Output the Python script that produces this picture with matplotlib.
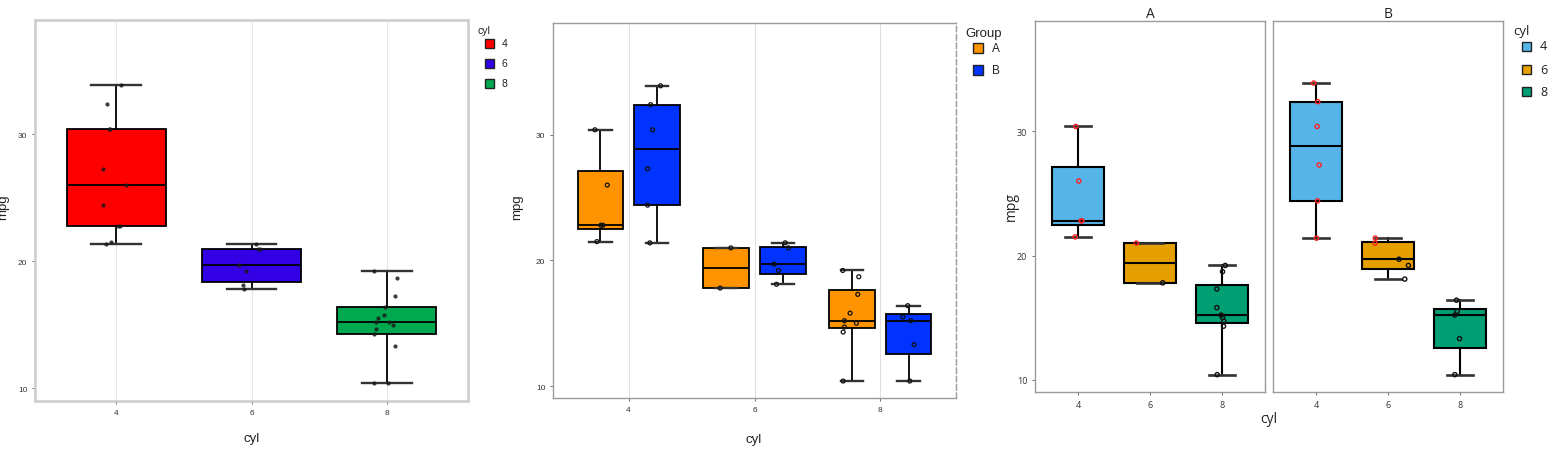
import numpy as np
import matplotlib
matplotlib.use('Agg')
import matplotlib.pyplot as plt
from matplotlib.patches import Rectangle

W, H = 1562, 452

# mtcars mpg, split by cyl and by Group
cyl_levels = ['4', '6', '8']
mpg_by_cyl = {
    '4': [33.9, 32.4, 30.4, 30.4, 27.3, 26.0, 24.4, 22.8, 22.8, 21.5, 21.4],
    '6': [21.4, 21.0, 21.0, 19.7, 19.2, 18.1, 17.8],
    '8': [19.2, 18.7, 17.3, 16.4, 15.8, 15.5, 15.2, 15.2, 15.0, 14.7, 14.3, 13.3, 10.4, 10.4],
}
mpg_A = {
    '4': [30.4, 26.0, 22.8, 22.8, 21.5],
    '6': [21.0, 17.8],
    '8': [19.2, 18.7, 17.3, 15.8, 15.2, 15.0, 14.7, 14.3, 10.4],
}
mpg_B = {
    '4': [33.9, 32.4, 30.4, 27.3, 24.4, 21.4],
    '6': [21.4, 21.0, 19.7, 19.2, 18.1],
    '8': [16.4, 15.5, 15.2, 13.3, 10.4],
}

# jitter offsets (same order as the values)
jit1 = {
    '4': [0.037, -0.067, -0.054, -0.044, -0.096, 0.074, -0.094, 0.012, 0.03, -0.035, -0.072],
    '6': [0.03, 0.05, 0.06, -0.094, -0.042, -0.064, -0.054],
    '8': [-0.096, 0.072, 0.059, -0.01, -0.022, -0.067, -0.079, 0.017, 0.044, -0.079, -0.094, 0.057, -0.094, 0.007],
}
jit2_A = {
    '4': [-0.042, 0.056, 0.005, 0.021, -0.026],
    '6': [0.037, -0.048],
    '8': [-0.074, 0.053, 0.045, -0.016, -0.061, 0.034, -0.061, -0.071, -0.071],
}
jit2_B = {
    '4': [0.029, -0.05, -0.034, -0.074, -0.074, -0.056],
    '6': [0.019, 0.045, -0.069, -0.034, -0.05],
    '8': [-0.008, -0.048, 0.016, 0.042, 0.008],
}
jit3_A = {
    '4': [-0.033, 0.009, 0.042, 0.052, -0.042],
    '6': [-0.19, 0.177],
    '8': [0.047, 0.009, -0.07, -0.07, -0.009, 0.009, 0.028, 0.023, -0.065],
}
jit3_B = {
    '4': [-0.033, 0.023, 0.014, 0.042, 0.019, 0.005],
    '6': [-0.177, -0.181, 0.153, 0.284, 0.233],
    '8': [-0.047, -0.037, -0.07, -0.005, -0.07],
}

colors1 = ['#FF0000', '#3300E6', '#00A94F']
colors2 = {'A': '#FF9400', 'B': '#0033FF'}
colors3 = ['#56B4E9', '#E69F00', '#009E73']


def box_stats(vals):
    v = np.asarray(vals)
    q1, med, q3 = np.percentile(v, [25, 50, 75], method='hazen')
    return dict(med=med, q1=q1, q3=q3, whislo=v.min(), whishi=v.max(), fliers=[])


def px_axes(x0, y0, x1, y1):
    return fig.add_axes([x0 / W, 1 - y1 / H, (x1 - x0) / W, (y1 - y0) / H])


def draw_boxes(ax, data, pos, width, color, lw=1.3):
    ax.bxp([box_stats(data)], positions=[pos], widths=width, patch_artist=True,
           showfliers=False, capwidths=width / 2,
           boxprops=dict(facecolor=color, edgecolor='black', linewidth=lw),
           medianprops=dict(color='black', linewidth=lw),
           whiskerprops=dict(color='black', linewidth=lw),
           capprops=dict(color='#333333', linewidth=lw + 0.4))


def style_axes(ax, frame_color, frame_lw, ylim, tick_fs):
    ax.set_xlim(0.4, 3.6)
    ax.set_ylim(*ylim)
    ax.set_yticks([10, 20, 30])
    ax.set_xticks([1, 2, 3])
    ax.set_xticklabels(cyl_levels)
    for s in ax.spines.values():
        s.set_color(frame_color)
        s.set_linewidth(frame_lw)
    ax.tick_params(length=2.5, width=0.6, color='#555555', labelsize=tick_fs,
                   labelcolor='#333333', pad=3)


def legend_block(x_title, y_title, title, title_fs, keys, cols, x_key, ys, ksize, x_lab, lab_fs, family):
    fig.text(x_title / W, 1 - y_title / H, title, fontsize=title_fs, va='center',
             color='#222222', family=family)
    for lab, c, y in zip(keys, cols, ys):
        fig.add_artist(Rectangle(((x_key - ksize / 2) / W, 1 - (y + ksize / 2) / H),
                                 ksize / W, ksize / H, transform=fig.transFigure,
                                 facecolor=c, edgecolor='#222222', linewidth=1.0))
        fig.text(x_lab / W, 1 - y / H, lab, fontsize=lab_fs, va='center',
                 color='#222222', family=family)


fig = plt.figure(figsize=(W / 100, H / 100), dpi=100)
fig.patch.set_facecolor('white')
plt.rcParams['font.family'] = ['Liberation Sans', 'DejaVu Sans']

# ---------- panel 1 ----------
ax1 = px_axes(35, 21, 468, 402)
for i, k in enumerate(cyl_levels):
    ax1.axvline(i + 1, color='#E6E6E6', lw=0.8, zorder=0)
    draw_boxes(ax1, mpg_by_cyl[k], i + 1, 0.73, colors1[i])
    ax1.scatter(np.array(jit1[k]) + i + 1, mpg_by_cyl[k], s=9, color='#1a1a1a',
                alpha=0.85, zorder=5, linewidths=0)
style_axes(ax1, '#CCCCCC', 1.8, (9, 39), 6)
ax1.set_xticks([1, 2, 3])
ax1.set_xticklabels(cyl_levels)
fig.text(3 / W, 1 - 207 / H, 'mpg', rotation=90, fontsize=9.5, va='center', ha='center', color='#222222')
fig.text(252 / W, 1 - 439 / H, 'cyl', fontsize=9.5, va='center', ha='center', color='#222222')
legend_block(478, 31, 'cyl', 7.5, cyl_levels, colors1, 489, [44, 64, 84], 9, 502, 7.5, None)

# ---------- panel 2 ----------
ax2 = px_axes(553, 24, 956, 399)
dodge = 0.225
for i, k in enumerate(cyl_levels):
    ax2.axvline(i + 1, color='#E0E0E0', lw=0.8, zorder=0)
    for grp, data, jit, sgn in (('A', mpg_A, jit2_A, -1), ('B', mpg_B, jit2_B, 1)):
        p = i + 1 + sgn * dodge
        draw_boxes(ax2, data[k], p, 0.36, colors2[grp])
        ax2.scatter(np.array(jit[k]) + p, data[k], s=8, facecolor='none',
                    edgecolor='#111111', linewidths=0.9, zorder=5)
style_axes(ax2, '#9A9A9A', 1.0, (9.05, 38.9), 6)
ax2.spines['right'].set_linestyle((0, (4, 2)))
fig.text(517 / W, 1 - 207 / H, 'mpg', rotation=90, fontsize=9.5, va='center', ha='center', color='#222222')
fig.text(754 / W, 1 - 440 / H, 'cyl', fontsize=9.5, va='center', ha='center', color='#222222')
legend_block(965, 34, 'Group', 9.5, ['A', 'B'], [colors2['A'], colors2['B']], 977.5, [49, 71], 10, 992, 8.5, None)

# ---------- panel 3 ----------
axA = px_axes(1035, 22, 1265, 393)
axB = px_axes(1273, 22, 1503, 393)
for ax, data, jit, title in ((axA, mpg_A, jit3_A, 'A'), (axB, mpg_B, jit3_B, 'B')):
    for i, k in enumerate(cyl_levels):
        draw_boxes(ax, data[k], i + 1, 0.725, colors3[i], lw=1.5)
        v = np.array(data[k])
        pt_col = np.where(v > 20, '#FF2020', '#111111')
        ax.scatter(np.array(jit[k]) + i + 1, v, s=9, facecolor='none',
                   edgecolor=pt_col, linewidths=1.0, zorder=5)
    style_axes(ax, '#9A9A9A', 1.0, (9, 38.9), 6.5)
    ax.set_title(title, fontsize=10, pad=2, family='Open Sans', color='#222222')
    for lab in ax.get_xticklabels():
        lab.set_family('Open Sans')
axB.tick_params(axis='y', left=False, labelleft=False)
axA.set_yticklabels(['10', '20', '30'])
for lab in axA.get_yticklabels():
    lab.set_family('Open Sans')
fig.text(1011 / W, 1 - 207 / H, 'mpg', rotation=90, fontsize=10, va='center', ha='center',
         color='#222222', family='Open Sans')
fig.text(1269 / W, 1 - 420 / H, 'cyl', fontsize=10, va='center', ha='center',
         color='#222222', family='Open Sans')
legend_block(1513, 32, 'cyl', 9.5, cyl_levels, colors3, 1526, [47, 70, 92], 9, 1540, 9, 'Open Sans')

fig.savefig('out.png', dpi=100)
